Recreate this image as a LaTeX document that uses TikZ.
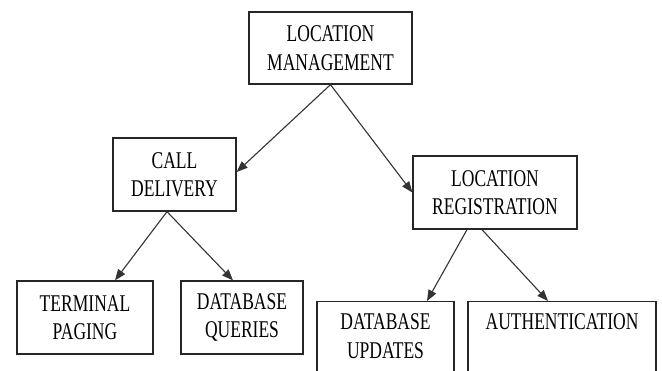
\documentclass[tikz,border=0pt]{standalone}
\usepackage{fontspec}
\newfontfamily\boxfont[FakeStretch=0.73]{Liberation Serif}
\usetikzlibrary{arrows.meta}
\tikzset{
  box/.style={draw=black!85, line width=1.3pt, rectangle, inner sep=0pt, align=center,
    font=\boxfont\fontsize{24}{28.5}\selectfont},
  openbox/.style={box, anchor=north, inner ysep=12pt},
  link/.style={draw=black!80, line width=1.1pt, -{Triangle[length=11pt,width=8.5pt]}}
}
\begin{document}
\begin{tikzpicture}[x=1pt,y=-1pt]
\clip (0,0) rectangle (662,370);
\fill[white] (0,0) rectangle (662,370);
\node[box, minimum width=163pt, minimum height=72pt] (lm) at (330.5,48) {LOCATION\\MANAGEMENT};
\node[box, minimum width=123pt, minimum height=73pt] (cd) at (174.5,174.5) {CALL\\DELIVERY};
\node[box, minimum width=164pt, minimum height=73pt] (lr) at (495,192.5) {LOCATION\\REGISTRATION};
\node[box, minimum width=136pt, minimum height=73pt] (tp) at (85,317.5) {TERMINAL\\PAGING};
\node[box, minimum width=122pt, minimum height=73pt] (dq) at (242,317.5) {DATABASE\\QUERIES};
\node[openbox, minimum width=137pt] (du) at (385.5,301) {DATABASE\\UPDATES\\[40pt]\mbox{}};
\node[openbox, minimum width=188pt] (au) at (562,301) {AUTHENTICATION\\[70pt]\mbox{}};
\draw[link] (lm.south) -- ([yshift=2.5pt]cd.east);
\draw[link] (lm.south) -- (lr.west);
\draw[link] ([xshift=-7.5pt]cd.south) -- ([xshift=30pt]tp.north);
\draw[link] ([xshift=-7.5pt]cd.south) -- ([xshift=-9pt]dq.north);
\draw[link] ([xshift=-28pt]lr.south) -- ([xshift=41.5pt]du.north);
\draw[link] ([xshift=-13pt]lr.south) -- ([xshift=-14pt]au.north);
\end{tikzpicture}
\end{document}
